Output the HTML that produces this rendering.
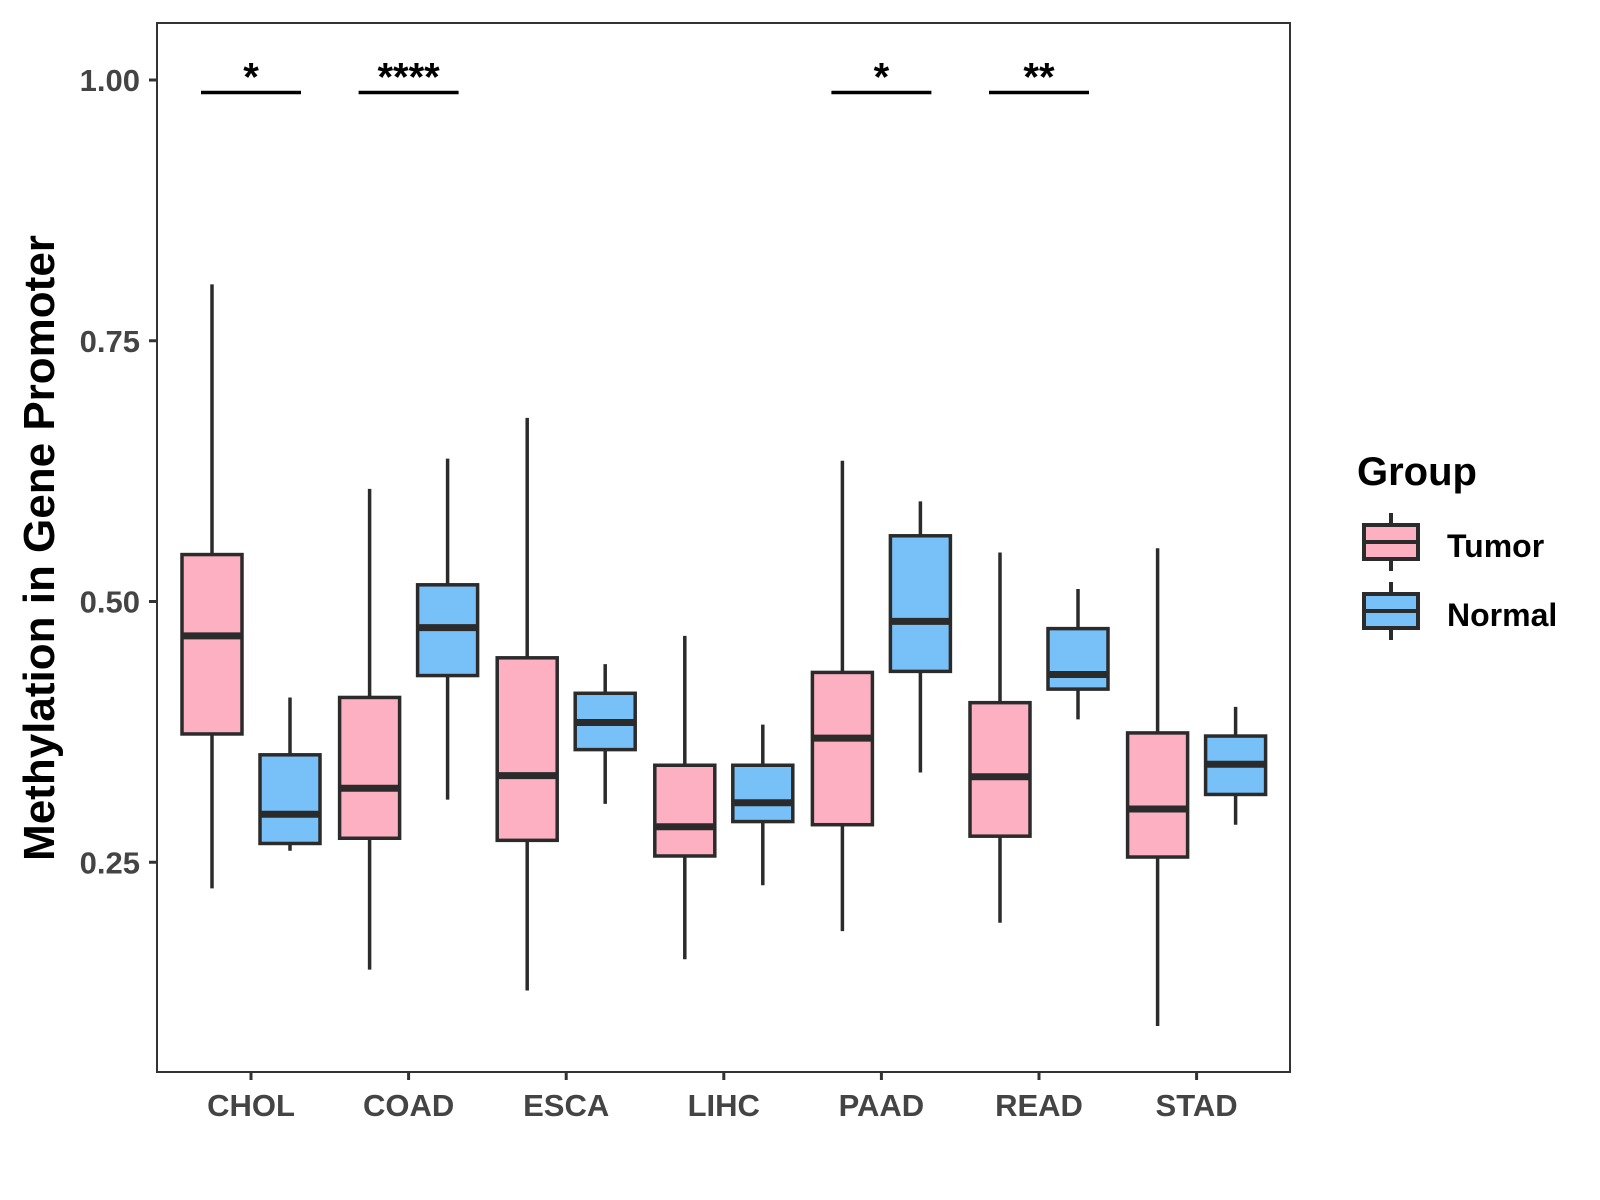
<!DOCTYPE html>
<html><head><meta charset="utf-8"><style>
body{margin:0;background:#fff}
svg{display:block;font-family:"Liberation Sans",Arial,sans-serif;font-weight:bold}
</style></head><body>
<svg id="chart" width="1600" height="1200" viewBox="0 0 1600 1200">
<rect x="157" y="23" width="1133" height="1049" fill="#fff" stroke="#333" stroke-width="2"/>
<g id="marks"></g>
<text transform="translate(54,548) rotate(-90)" text-anchor="middle" font-size="44" fill="#000">Methylation in Gene Promoter</text>
<g>
<text x="1357" y="485" font-size="40" fill="#000">Group</text>
<g>
<line x1="1391" y1="513" x2="1391" y2="571" stroke="#2b2b2b" stroke-width="4"/>
<rect x="1364" y="525" width="54" height="34" fill="#FDB0C2" stroke="#2b2b2b" stroke-width="4"/>
<line x1="1364" y1="542" x2="1418" y2="542" stroke="#2b2b2b" stroke-width="4"/>
<text x="1447" y="557" font-size="32" fill="#000">Tumor</text></g>
<g>
<line x1="1391" y1="582" x2="1391" y2="640" stroke="#2b2b2b" stroke-width="4"/>
<rect x="1364" y="594" width="54" height="34" fill="#77C1F8" stroke="#2b2b2b" stroke-width="4"/>
<line x1="1364" y1="611" x2="1418" y2="611" stroke="#2b2b2b" stroke-width="4"/>
<text x="1447" y="626" font-size="32" fill="#000">Normal</text></g>
</g>
</svg>
<script>
const categories=["CHOL","COAD","ESCA","LIHC","PAAD","READ","STAD"];
// [lower whisker, q1, median, q3, upper whisker]
const tumor=[[0.225,0.373,0.467,0.545,0.804],[0.147,0.273,0.321,0.408,0.608],[0.127,0.271,0.333,0.446,0.676],[0.157,0.256,0.284,0.343,0.467],[0.184,0.286,0.369,0.432,0.635],[0.192,0.275,0.332,0.403,0.547],[0.093,0.255,0.301,0.374,0.551]];
const normal=[[0.261,0.268,0.296,0.353,0.408],[0.310,0.429,0.475,0.516,0.637],[0.306,0.358,0.384,0.412,0.440],[0.228,0.289,0.307,0.343,0.382],[0.336,0.433,0.481,0.563,0.596],[0.387,0.416,0.430,0.474,0.512],[0.286,0.315,0.344,0.371,0.399]];
const yTicks=[0.25,0.50,0.75,1.00];
const yTickLabels=["0.25","0.50","0.75","1.00"];
const sigCats=["CHOL","COAD","PAAD","READ"];
const sigLabels=["*","****","*","**"];
const sigY=0.988;
const NS="http://www.w3.org/2000/svg";
const g=document.getElementById('marks');
const Y=v=>80+(1-v)*1043;
const X=i=>251+i*157.6;
function mk(t,a,p){const e=document.createElementNS(NS,t);for(const k in a)e.setAttribute(k,a[k]);(p||g).appendChild(e);return e;}
yTicks.forEach((v,i)=>{
 const l=mk('line',{x1:149,x2:157,y1:Y(v),y2:Y(v),stroke:'#333','stroke-width':3});
 
 
 const t=mk('text',{x:140,y:Y(v)+11,'text-anchor':'end','font-size':31,fill:'#444'});
 t.textContent=yTickLabels[i];
 
 
});
categories.forEach((c,i)=>{
 const l=mk('line',{x1:X(i),x2:X(i),y1:1072,y2:1080,stroke:'#333','stroke-width':3});
 
 
 const t=mk('text',{x:X(i),y:1116,'text-anchor':'middle','font-size':31,fill:'#444'});
 t.textContent=c;
 
 
});
function box(cx,d,fill,name){
 const b=mk('g',{});
 
 
 mk('line',{x1:cx,x2:cx,y1:Y(d[4]),y2:Y(d[0]),stroke:'#2b2b2b','stroke-width':3.5},b);
 mk('rect',{x:cx-30,y:Y(d[3]),width:60,height:Y(d[1])-Y(d[3]),fill:fill,stroke:'#2b2b2b','stroke-width':3.5},b);
 mk('line',{x1:cx-30,x2:cx+30,y1:Y(d[2]),y2:Y(d[2]),stroke:'#2b2b2b','stroke-width':7},b);
}
categories.forEach((c,i)=>{
 box(X(i)-39,tumor[i],'#FDB0C2','box-tumor-'+c.toLowerCase());
 box(X(i)+39,normal[i],'#77C1F8','box-normal-'+c.toLowerCase());
});
sigCats.forEach((c,k)=>{
 const i=categories.indexOf(c);
 const l=mk('line',{x1:X(i)-50,x2:X(i)+50,y1:Y(sigY),y2:Y(sigY),stroke:'#000','stroke-width':3.5});
 
 
 const t=mk('text',{x:X(i),y:Y(sigY)-2,'text-anchor':'middle','font-size':40,fill:'#000'});
 t.textContent=sigLabels[k];
 
 
});
</script>
</body></html>
